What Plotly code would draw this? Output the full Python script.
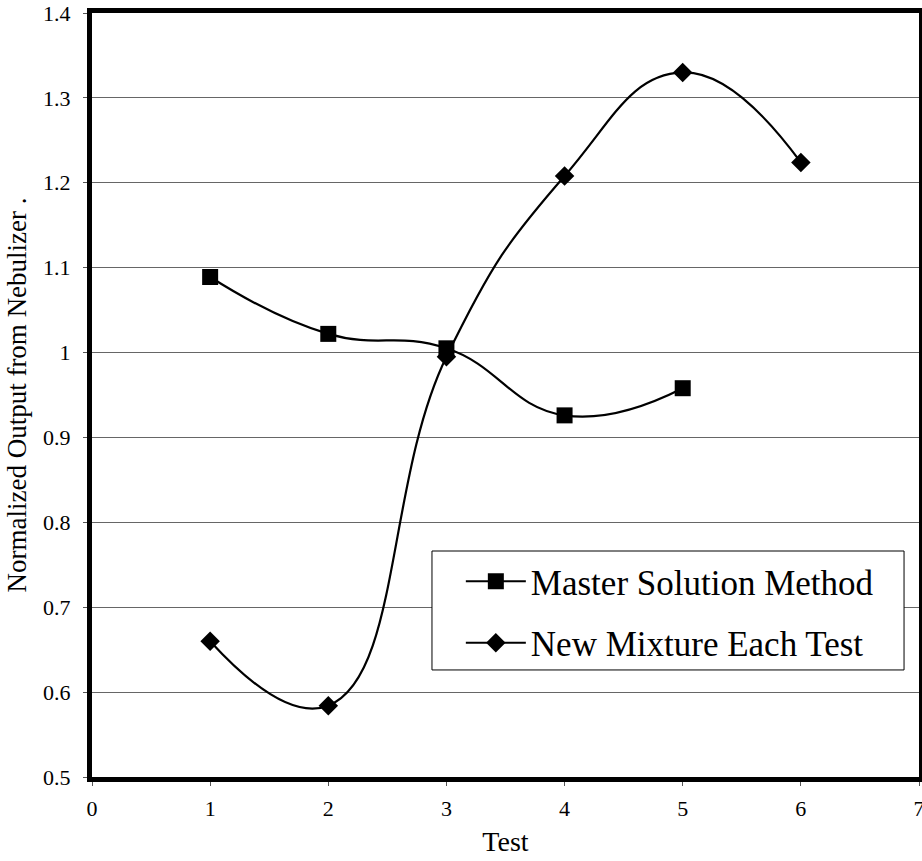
import plotly.graph_objects as go

tests_master = [1, 2, 3, 4, 5]
master_values = [1.089, 1.022, 1.005, 0.926, 0.958]
tests_new = [1, 2, 3, 4, 5, 6]
new_values = [0.660, 0.584, 0.995, 1.208, 1.330, 1.224]
x_ticks = [0, 1, 2, 3, 4, 5, 6, 7]
y_ticks = [0.5, 0.6, 0.7, 0.8, 0.9, 1.0, 1.1, 1.2, 1.3, 1.4]
y_tick_labels = ["0.5", "0.6", "0.7", "0.8", "0.9", "1", "1.1", "1.2", "1.3", "1.4"]

font_family = "Liberation Serif"

fig = go.Figure()
fig.add_trace(go.Scatter(
    x=tests_master, y=master_values, name="Master Solution Method",
    mode="lines+markers", legendgroup="a",
    line=dict(color="black", width=2.2, shape="spline", smoothing=1.3),
    marker=dict(symbol="square", size=16, color="black"),
))
fig.add_trace(go.Scatter(
    x=tests_new, y=new_values, name="New Mixture Each Test",
    mode="lines+markers", legendgroup="b",
    line=dict(color="black", width=2.2, shape="spline", smoothing=1.3),
    marker=dict(symbol="diamond", size=15, color="black"),
))

# legend frame
fig.add_shape(type="rect", xref="paper", yref="paper",
              x0=0.4111, x1=0.9819, y0=0.1401, y1=0.2958,
              line=dict(color="black", width=1), fillcolor="white", layer="above")

fig.update_layout(
    width=922, height=861,
    margin=dict(l=92, r=3, t=13, b=84),
    paper_bgcolor="white", plot_bgcolor="white",
    font=dict(family=font_family, size=22, color="black"),
    showlegend=True,
    legend=dict(
        x=0.446, y=0.2945, xanchor="left", yanchor="top",
        borderwidth=0, bgcolor="rgba(0,0,0,0)",
        font=dict(size=35, family=font_family, color="black"),
        itemwidth=60, traceorder="grouped", tracegroupgap=13,
    ),
    xaxis=dict(
        range=[0, 7], tickvals=x_ticks, ticktext=[str(v) for v in x_ticks],
        showgrid=False, zeroline=False, automargin=False,
        showline=True, linecolor="black", linewidth=5, mirror=True,
        ticks="outside", ticklen=4, tickcolor="#555", tickwidth=1,
        tickfont=dict(family=font_family, size=22, color="black"),
        ticklabelstandoff=4, ticklabeloverflow="allow",
        title=dict(text="Test", font=dict(family=font_family, size=28, color="black"), standoff=12),
    ),
    yaxis=dict(
        range=[0.5, 1.4], tickvals=y_ticks, ticktext=y_tick_labels,
        showgrid=True, gridcolor="#666666", gridwidth=1, zeroline=False, automargin=False,
        showline=True, linecolor="black", linewidth=5, mirror=True,
        ticks="outside", ticklen=4, tickcolor="#555", tickwidth=1,
        tickfont=dict(family=font_family, size=22, color="black"),
        ticklabelstandoff=8, ticklabeloverflow="allow",
        title=dict(text="Normalized Output from Nebulizer .", font=dict(family=font_family, size=27, color="black"), standoff=10),
    ),
)

fig.write_html("out.html", config={"displayModeBar": False},
               post_script="document.body.style.margin='0';")
